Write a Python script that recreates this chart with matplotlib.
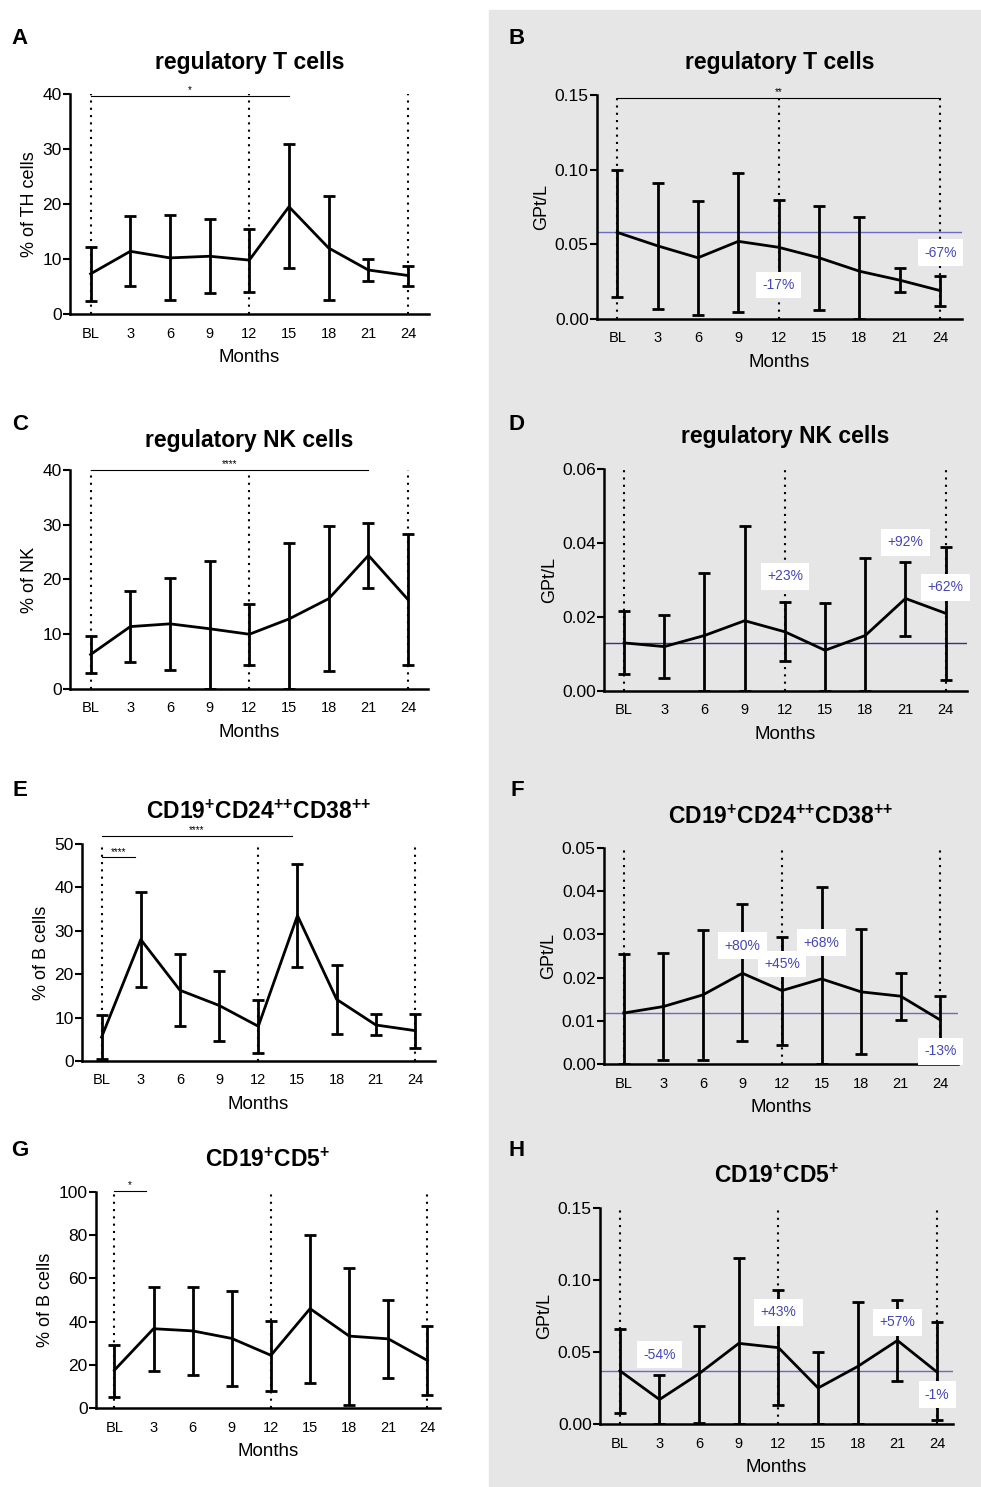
import matplotlib.pyplot as plt
from matplotlib.patches import Rectangle

plt.rcParams['font.family'] = ['Liberation Sans', 'DejaVu Sans']
plt.rcParams['mathtext.fontset'] = 'custom'
plt.rcParams['mathtext.rm'] = 'Liberation Sans'
plt.rcParams['mathtext.bf'] = 'Liberation Sans:bold'

months = ["BL", "3", "6", "9", "12", "15", "18", "21", "24"]

# A - regulatory T cells, % of TH cells
a_mean = [7.3, 11.4, 10.2, 10.5, 9.8, 19.5, 12.0, 8.0, 7.0]
a_hi = [12.1, 17.8, 18.0, 17.2, 15.4, 30.9, 21.4, 10.0, 8.8]
a_lo = [2.4, 5.1, 2.5, 3.8, 4.0, 8.3, 2.6, 6.0, 5.1]

# B - regulatory T cells, GPt/L
b_mean = [0.058, 0.049, 0.041, 0.052, 0.048, 0.041, 0.032, 0.026, 0.019]
b_hi = [0.100, 0.091, 0.079, 0.098, 0.080, 0.076, 0.068, 0.034, 0.029]
b_lo = [0.015, 0.007, 0.003, 0.005, 0.025, 0.006, 0.0, 0.018, 0.009]

# C - regulatory NK cells, % of NK
c_mean = [6.3, 11.4, 11.9, 11.0, 10.0, 12.8, 16.5, 24.4, 16.3]
c_hi = [9.6, 17.9, 20.3, 23.4, 15.6, 26.6, 29.8, 30.4, 28.3]
c_lo = [2.9, 4.9, 3.4, 0.0, 4.3, 0.0, 3.3, 18.5, 4.3]

# D - regulatory NK cells, GPt/L
d_mean = [0.013, 0.012, 0.015, 0.019, 0.016, 0.011, 0.015, 0.025, 0.021]
d_hi = [0.0215, 0.0205, 0.032, 0.0445, 0.024, 0.0237, 0.036, 0.035, 0.039]
d_lo = [0.0045, 0.0035, 0.0, 0.0, 0.008, 0.0, 0.0, 0.015, 0.003]

# E - CD19+CD24++CD38++, % of B cells
e_mean = [5.5, 28.0, 16.3, 12.8, 8.0, 33.5, 14.2, 8.3, 7.0]
e_hi = [10.5, 39.0, 24.7, 20.8, 14.0, 45.4, 22.2, 10.8, 10.8]
e_lo = [0.4, 17.0, 8.0, 4.6, 1.8, 21.7, 6.2, 5.9, 3.0]

# F - CD19+CD24++CD38++, GPt/L
f_mean = [0.0118, 0.0133, 0.016, 0.021, 0.017, 0.0197, 0.0167, 0.0157, 0.0102]
f_hi = [0.0254, 0.0258, 0.031, 0.037, 0.0295, 0.041, 0.0312, 0.021, 0.0157]
f_lo = [0.0, 0.001, 0.001, 0.0053, 0.0045, 0.0, 0.0022, 0.0103, 0.005]

# G - CD19+CD5+, % of B cells
g_mean = [17.5, 36.7, 35.7, 32.2, 24.4, 46.0, 33.3, 32.0, 22.0]
g_hi = [29.2, 55.9, 56.2, 54.0, 40.4, 80.3, 64.7, 49.8, 37.8]
g_lo = [5.3, 17.2, 15.2, 10.3, 7.8, 11.5, 1.3, 14.1, 6.1]

# H - CD19+CD5+, GPt/L
h_mean = [0.037, 0.017, 0.035, 0.056, 0.053, 0.025, 0.040, 0.058, 0.036]
h_hi = [0.066, 0.034, 0.068, 0.115, 0.093, 0.050, 0.085, 0.086, 0.071]
h_lo = [0.0075, 0.0, 0.0005, 0.0, 0.013, 0.0, 0.0, 0.030, 0.0025]

# significance bars: (start index, end index, y, stars)
a_sig = [(0, 5, 39.6, "*")]
b_sig = [(0, 8, 0.148, "**")]
c_sig = [(0, 7, 40.0, "****")]
e_sig = [(0, 4.85, 51.8, "****"), (0, 0.85, 46.9, "****")]
g_sig = [(0, 0.8, 100.3, "*")]

# percent change labels: (text, index, y)
b_lab = [("-17%", 4, 0.0228), ("-67%", 8, 0.0445)]
d_lab = [("+23%", 4, 0.031), ("+92%", 7, 0.0402), ("+62%", 8, 0.028)]
f_lab = [("+80%", 3, 0.0274), ("+45%", 4, 0.0231), ("+68%", 5, 0.0281), ("-13%", 8, 0.0029)]
h_lab = [("-54%", 1, 0.0481), ("+43%", 4, 0.0775), ("+57%", 7, 0.0706), ("-1%", 8, 0.0204)]

W, H = 981, 1487
fig = plt.figure(figsize=(W / 100, H / 100), dpi=100)
fig.patches.append(Rectangle((489 / W, 0), 1 - 489 / W, (H - 10) / H,
                             transform=fig.transFigure, color='#e6e6e6', zorder=-10))

title_t = "regulatory T cells"
title_nk = "regulatory NK cells"
title_cd38 = r"CD19$^{\mathbf{{+}}}$CD24$^{\mathbf{{+}{+}}}$CD38$^{\mathbf{{+}{+}}}$"
title_cd5 = r"CD19$^{\mathbf{{+}}}$CD5$^{\mathbf{{+}}}$"


def panel(box, letter, lpos, title, ty, ylabel, mean, hi, lo, ylim, step, fmt,
          xlim=(-0.5, 8.5), sig=(), labels=(), base=None, base_col='#6b6bbf'):
    l, r, t, b = box
    ax = fig.add_axes([l / W, 1 - b / H, (r - l) / W, (b - t) / H])
    ax.set_facecolor('none')
    x = list(range(len(months)))
    for i in (0, 4, 8):
        ax.plot([i, i], [0, ylim], color='black', lw=1.5,
                ls=(0, (1, 2.5)), zorder=1)
    if base is not None:
        ax.axhline(base, color=base_col, lw=1.0, zorder=1.5)
    yerr = [[m - v for m, v in zip(mean, lo)], [v - m for m, v in zip(mean, hi)]]
    ax.errorbar(x, mean, yerr=yerr, color='black', lw=2, elinewidth=2,
                capsize=4, capthick=2, zorder=2)
    for s, e, y, st in sig:
        ax.plot([s, e], [y, y], color='black', lw=0.8, clip_on=False)
        ax.text((s + e) / 2, y + ylim * 0.004, st, ha='center', va='bottom',
                fontsize=7)
    for txt, i, y in labels:
        ax.text(i, y, txt, ha='center', va='center', fontsize=10,
                color='#4646b4', zorder=5,
                bbox=dict(facecolor='white', edgecolor='none', pad=4.5))
    ax.set_xlim(*xlim)
    ax.set_ylim(0, ylim)
    ax.set_xticks(x)
    ax.set_xticklabels(months)
    ticks = [k * step for k in range(int(round(ylim / step)) + 1)]
    ax.set_yticks(ticks)
    ax.set_yticklabels([fmt.format(v) for v in ticks])
    ax.tick_params(axis='x', length=0, pad=9, labelsize=10.5)
    ax.tick_params(axis='y', length=5, width=1.5, labelsize=12.5, pad=1)
    for sp in ('top', 'right'):
        ax.spines[sp].set_visible(False)
    for sp in ('left', 'bottom'):
        ax.spines[sp].set_linewidth(1.8)
    ax.set_xlabel("Months", fontsize=13.5, labelpad=6)
    ax.set_ylabel(ylabel, fontsize=13, labelpad=3)
    fig.text((l + r) / 2 / W, 1 - ty / H, title, ha='center', va='center',
             fontsize=16.5, fontweight='bold')
    fig.text(lpos[0] / W, 1 - lpos[1] / H, letter, ha='center', va='center',
             fontsize=16, fontweight='bold')
    return ax


panel((70, 429, 94, 314), "A", (20, 38), title_t, 63, "% of TH cells",
      a_mean, a_hi, a_lo, 40, 10, "{:.0f}", xlim=(-0.52, 8.53), sig=a_sig)
panel((597, 962, 95, 319), "B", (517, 38), title_t, 63, "GPt/L",
      b_mean, b_hi, b_lo, 0.15, 0.05, "{:.2f}", xlim=(-0.5, 8.54), sig=b_sig,
      labels=b_lab, base=b_mean[0])
panel((70, 428, 470, 689), "C", (20, 425), title_nk, 440, "% of NK",
      c_mean, c_hi, c_lo, 40, 10, "{:.0f}", xlim=(-0.52, 8.5), sig=c_sig)
panel((604, 967, 469, 691), "D", (517, 425), title_nk, 437, "GPt/L",
      d_mean, d_hi, d_lo, 0.06, 0.02, "{:.2f}", xlim=(-0.5, 8.53),
      labels=d_lab, base=d_mean[0], base_col='#333388')
panel((82, 435, 844, 1061), "E", (20, 790), title_cd38, 812, "% of B cells",
      e_mean, e_hi, e_lo, 50, 10, "{:.0f}", xlim=(-0.5, 8.51), sig=e_sig)
panel((604, 958, 848, 1064), "F", (517, 790), title_cd38, 817, "GPt/L",
      f_mean, f_hi, f_lo, 0.05, 0.01, "{:.2f}", xlim=(-0.5, 8.45),
      labels=f_lab, base=f_mean[0])
panel((96, 440, 1192, 1408), "G", (20, 1151), title_cd5, 1160, "% of B cells",
      g_mean, g_hi, g_lo, 100, 20, "{:.0f}", xlim=(-0.47, 8.32), sig=g_sig)
panel((600, 953, 1208, 1424), "H", (517, 1150), title_cd5, 1176, "GPt/L",
      h_mean, h_hi, h_lo, 0.15, 0.05, "{:.2f}", xlim=(-0.5, 8.4),
      labels=h_lab, base=h_mean[0])

fig.savefig("out.png", dpi=100)
